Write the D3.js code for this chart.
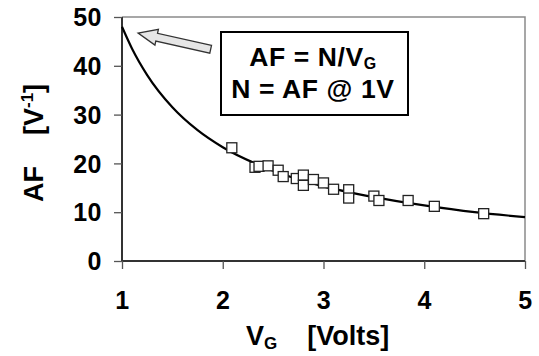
<!DOCTYPE html>
<html><head><meta charset="utf-8">
<script src="https://cdn.jsdelivr.net/npm/d3@7"></script>
<style>
html,body{margin:0;padding:0;background:#fff;}
text{font-family:"Liberation Sans",Arial,sans-serif;font-weight:bold;fill:#000;}
</style></head>
<body><svg id="c" width="539" height="356"></svg>
<script>
// measured data points (VG, AF)
const pointVG = [2.09,2.32,2.36,2.45,2.55,2.60,2.73,2.80,2.80,2.90,3.00,3.10,3.25,3.25,3.50,3.55,3.84,4.10,4.59];
const pointAF = [23.2,19.2,19.4,19.5,18.6,17.3,16.9,17.6,15.5,16.7,16.0,14.7,14.6,12.9,13.3,12.4,12.4,11.2,9.7];
// fitted curve
const curveVG = [1.0,1.1,1.25,1.5,1.75,2.0,2.5,3.0,3.5,4.0,4.5,5.0];
const curveAF = [48.0,43.5,38.1,31.5,26.8,23.3,18.5,15.3,13.1,11.4,10.0,9.0];
const xTicks = [1,2,3,4,5];
const yTicks = [0,10,20,30,40,50];

const svg = d3.select("#c");
const L=122,R=525,T=17,B=261;
const x = d3.scaleLinear().domain([1,5]).range([L,R]);
const y = d3.scaleLinear().domain([0,50]).range([B,T]);

// frame (top/right)
svg.append("path").attr("d",`M${L},${T}H${R}V${B}`).attr("fill","none").attr("stroke","#8a8a8a").attr("stroke-width",1.5);

// axes
const yAxis = d3.axisLeft(y).tickValues(yTicks).tickFormat(d3.format("d")).tickSize(8).tickPadding(12);
const gy = svg.append("g").attr("transform",`translate(${L},0)`).call(yAxis);
const xAxis = d3.axisBottom(x).tickValues(xTicks).tickFormat(d3.format("d")).tickSize(8).tickPadding(22);
const gx = svg.append("g").attr("transform",`translate(0,${B})`).call(xAxis);
[gy,gx].forEach(g=>{
  g.select(".domain").attr("stroke","#333").attr("stroke-width",2);
  g.selectAll(".tick line").attr("stroke","#555").attr("stroke-width",1.3);
  g.selectAll(".tick text").style("font-family","Liberation Sans, Arial, sans-serif").style("font-weight","bold").style("font-size","25px").style("letter-spacing","0.5px").attr("fill","#000");
});
gy.select(".domain").attr("d",`M0,${B}V${T}`);
gx.select(".domain").attr("d",`M${L},0H${R}`);
gy.selectAll(".tick text").attr("dy","0.35em");

// curve
const line = d3.line().x(d=>x(d[0])).y(d=>y(d[1])).curve(d3.curveMonotoneX);
svg.append("path").datum(curveVG.map((v,i)=>[v,curveAF[i]])).attr("d",line)
  .attr("fill","none").attr("stroke","#000").attr("stroke-width",2.2);

// markers
const S=10;
svg.append("g").selectAll("rect").data(pointVG.map((v,i)=>[v,pointAF[i]])).join("rect")
  .attr("x",d=>x(d[0])-S/2).attr("y",d=>y(d[1])-S/2).attr("width",S).attr("height",S)
  .attr("fill","#fff").attr("stroke","#222").attr("stroke-width",1.3);

// arrow annotation
(function(){
  const tip=[x(1.16),y(46.7)], tail=[x(1.88),y(43.4)];
  const dx=tip[0]-tail[0], dy=tip[1]-tail[1], len=Math.hypot(dx,dy);
  const ux=dx/len, uy=dy/len, px=-uy, py=ux;
  const hl=19, hw=8, sw=4;
  const P=(a,b)=>[tail[0]+ux*a+px*b, tail[1]+uy*a+py*b];
  const pts=[P(0,sw),P(len-hl,sw),P(len-hl,hw),P(len,0),P(len-hl,-hw),P(len-hl,-sw),P(0,-sw)];
  svg.append("path").attr("d","M"+pts.map(p=>p.join(",")).join("L")+"Z")
    .attr("fill","#e6e6e6").attr("stroke","#333").attr("stroke-width",1.3);
})();

// box
svg.append("rect").attr("x",221).attr("y",32).attr("width",187).attr("height",83)
  .attr("fill","#fff").attr("stroke","#000").attr("stroke-width",2);
const t1 = svg.append("text").attr("x",313).attr("y",66).attr("text-anchor","middle").style("font-size","26.5px").style("letter-spacing","0.6px");
t1.append("tspan").text("AF = N/V");
t1.append("tspan").attr("dy",3).style("font-size","16px").text("G");
svg.append("text").attr("x",313).attr("y",98).attr("text-anchor","middle").style("font-size","26.5px").style("letter-spacing","0.6px").text("N = AF @ 1V");

// y label
const yl = svg.append("text").attr("transform","translate(43,202) rotate(-90)").style("font-size","27px");
yl.append("tspan").text("AF");
yl.append("tspan").attr("dx",31).text("[V");
yl.append("tspan").attr("dy",-10).style("font-size","17px").text("-1");
yl.append("tspan").attr("dy",10).text("]");

// x label
const xl = svg.append("text").attr("x",246).attr("y",345).style("font-size","27px");
xl.append("tspan").text("V");
xl.append("tspan").attr("dy",4).style("font-size","17px").text("G");
xl.append("tspan").attr("dy",-4).attr("dx",30).text("[Volts]");
</script></body></html>
